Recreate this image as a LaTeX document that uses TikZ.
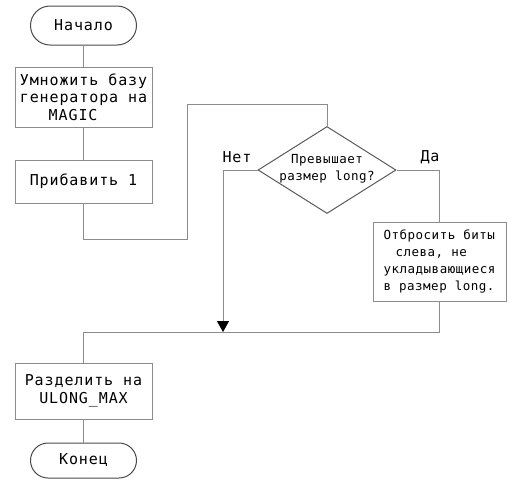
\documentclass[tikz,border=0pt]{standalone}
\usepackage{fontspec}
\newfontfamily\bigmono[LetterSpace=6]{DejaVu Sans Mono}
\newfontfamily\smallmono[LetterSpace=4]{DejaVu Sans Mono}
\usetikzlibrary{shapes.geometric,shapes.misc,arrows.meta}

\definecolor{boxgray}{HTML}{8C8C8C}
\definecolor{termgray}{HTML}{4A4A4A}
\definecolor{diagray}{HTML}{5A5A5A}

\begin{document}
\begin{tikzpicture}[x=1pt,y=-1pt,line width=1pt,
  conn/.style={draw=boxgray},
  bigtext/.style={font=\bigmono\fontsize{15pt}{17.5pt}\selectfont},
  smalltext/.style={font=\smallmono\fontsize{12.5pt}{17pt}\selectfont},
  proc/.style={bigtext,draw=boxgray,rectangle,minimum width=137pt,inner sep=0pt,align=center},
  procsmall/.style={smalltext,draw=boxgray,rectangle,inner sep=0pt,align=left},
  term/.style={bigtext,draw=termgray,rounded rectangle,inner sep=0pt,minimum width=106pt},
  dia/.style={draw=diagray,diamond,inner sep=0pt,minimum width=138pt,minimum height=87pt,aspect=1.586},
  lbl/.style={bigtext,inner sep=0pt},
  arrowtip/.style={-{Triangle[width=12pt,length=11pt,color=black]}}
]
\useasboundingbox (0,0) rectangle (511,482);

% blocks
\node[term,minimum height=39pt] (start) at (83.5,25.5) {Начало};
\node[proc,minimum height=60pt,align=left] (mult) at (83.5,97)
  {Умножить базу\\генератора на\\\phantom{MMM}MAGIC};
\node[proc,minimum height=43pt] (add) at (83.5,181.5) {Прибавить 1};
\node[dia] (check) at (327,170) {};
\node[smalltext,align=center,inner sep=0pt] (checktext) at (327,169)
  {Превышает\\размер long?};
\node[procsmall,minimum width=133pt,minimum height=79pt] (drop) at (439.5,261.5)
  {Отбросить биты\\\hspace*{12pt}слева, не\\укладывающиеся\\в размер long.};
\node[proc,minimum height=56pt] (div) at (83.5,391) {Разделить на\\ULONG\_MAX};
\node[term,minimum height=35pt] (stop) at (83.5,460.5) {Конец};

% branch labels
\node[lbl] (no) at (237,157) {Нет};
\node[lbl] (yes) at (430,157) {Да};

% turning points of the connectors
\coordinate (loopA) at (83.5,239);
\coordinate (loopB) at (187,239);
\coordinate (loopC) at (187,104);
\coordinate (loopD) at (327,104);
\coordinate (noturn) at (223,170);
\coordinate (join) at (223,332);
\coordinate (yesturn) at (439.5,170);
\coordinate (mergeR) at (439.5,332);
\coordinate (mergeL) at (83.5,332);

% connectors
\draw[conn] (start.south) -- (mult.north);
\draw[conn] (mult.south) -- (add.north);
\draw[conn] (add.south) -- (loopA) -- (loopB) -- (loopC) -- (loopD) -- (check.north);
\draw[conn,arrowtip] (check.west) -- (noturn) -- (join);
\draw[conn] (check.east) -- (yesturn) -- (drop.north);
\draw[conn] (drop.south) -- (mergeR) -- (mergeL) -- (div.north);
\draw[conn] (div.south) -- (stop.north);
\end{tikzpicture}
\end{document}
